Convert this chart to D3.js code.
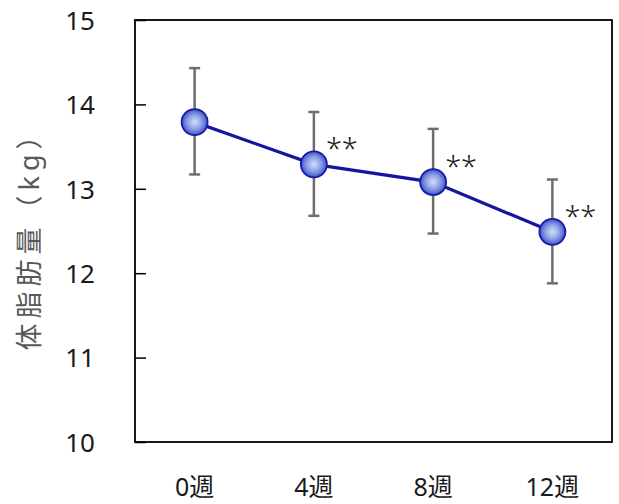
<!DOCTYPE html>
<html>
<head>
<meta charset="utf-8">
<script src="https://cdn.jsdelivr.net/npm/d3@7"></script>
<style>
  body { margin: 0; background: #fff; }
  svg { display: block; }
</style>
</head>
<body>
<div id="vis"></div>
<script>
// data
const weeks = ["0週", "4週", "8週", "12週"];
const means = [13.79, 13.29, 13.08, 12.49];
const errUp = [14.43, 13.91, 13.71, 13.11];
const errDown = [13.17, 12.68, 12.47, 11.88];
const marks = ["", "**", "**", "**"];
const yTicks = [10, 11, 12, 13, 14, 15];

const FONT = '"Noto Sans", "Noto Sans CJK JP", sans-serif';

const svg = d3.select("#vis").append("svg")
  .attr("width", 619)
  .attr("height", 504)
  .attr("font-family", FONT);

const margin = { top: 20, right: 7, bottom: 62, left: 135 };
const width = 619 - margin.left - margin.right;
const height = 504 - margin.top - margin.bottom;

const g = svg.append("g")
  .attr("transform", `translate(${margin.left},${margin.top})`);

const xScale = d3.scalePoint()
  .domain(weeks)
  .range([0, width])
  .padding(0.5);

const yScale = d3.scaleLinear()
  .domain([10, 15])
  .range([height, 0]);

// gradient for the markers
const grad = svg.append("defs").append("radialGradient")
  .attr("id", "ball")
  .attr("cx", "50%").attr("cy", "50%").attr("r", "50%");
grad.append("stop").attr("offset", "0%").attr("stop-color", "#d4def8");
grad.append("stop").attr("offset", "55%").attr("stop-color", "#8c9fe6");
grad.append("stop").attr("offset", "100%").attr("stop-color", "#3f55c8");

// frame
g.append("rect")
  .attr("width", width)
  .attr("height", height)
  .attr("fill", "none")
  .attr("stroke", "#000")
  .attr("stroke-width", 1.8);

// y axis, ticks inward
const yAxis = g.append("g")
  .call(d3.axisLeft(yScale).tickValues(yTicks).tickFormat(d3.format("d"))
    .tickSize(-11).tickPadding(40))
  .attr("font-family", FONT);
yAxis.select(".domain").remove();
yAxis.selectAll("line").attr("stroke", "#000").attr("stroke-width", 1.5);
yAxis.selectAll("text")
  .attr("font-size", "26px")
  .attr("fill", "#1a1a1a")
  .attr("dy", "0.36em");

// x labels
g.selectAll(".xlab")
  .data(weeks)
  .join("text")
  .attr("class", "xlab")
  .attr("x", d => xScale(d))
  .attr("y", height + 54)
  .attr("text-anchor", "middle")
  .attr("font-size", "25px")
  .attr("fill", "#1a1a1a")
  .text(d => d);

// y title
g.append("text")
  .attr("transform", "rotate(-90)")
  .attr("x", -214)
  .attr("y", -96)
  .attr("text-anchor", "middle")
  .attr("font-size", "27px")
  .attr("letter-spacing", "5px")
  .attr("fill", "#595959")
  .text("体脂肪量（kg）");

// error bars
const eb = g.selectAll(".eb")
  .data(weeks)
  .join("g")
  .attr("class", "eb")
  .attr("stroke", "#6e6e6e")
  .attr("stroke-width", 2.5);
eb.append("line")
  .attr("x1", d => xScale(d)).attr("x2", d => xScale(d))
  .attr("y1", (d, i) => yScale(errUp[i]))
  .attr("y2", (d, i) => yScale(errDown[i]));
eb.append("line")
  .attr("x1", d => xScale(d) - 5.5).attr("x2", d => xScale(d) + 5.5)
  .attr("y1", (d, i) => yScale(errUp[i]))
  .attr("y2", (d, i) => yScale(errUp[i]));
eb.append("line")
  .attr("x1", d => xScale(d) - 5.5).attr("x2", d => xScale(d) + 5.5)
  .attr("y1", (d, i) => yScale(errDown[i]))
  .attr("y2", (d, i) => yScale(errDown[i]));

// line
const line = d3.line()
  .x((d, i) => xScale(weeks[i]))
  .y(d => yScale(d));
g.append("path")
  .datum(means)
  .attr("d", line)
  .attr("fill", "none")
  .attr("stroke", "#1515a0")
  .attr("stroke-width", 3.2);

// markers
g.selectAll(".pt")
  .data(means)
  .join("circle")
  .attr("class", "pt")
  .attr("cx", (d, i) => xScale(weeks[i]))
  .attr("cy", d => yScale(d))
  .attr("r", 13)
  .attr("fill", "url(#ball)")
  .attr("stroke", "#1a1aa8")
  .attr("stroke-width", 1.8);

// significance marks
g.selectAll(".sig")
  .data(marks)
  .join("text")
  .attr("class", "sig")
  .attr("x", (d, i) => xScale(weeks[i]) + 12)
  .attr("y", (d, i) => yScale(means[i]) - 5)
  .attr("font-size", "29px")
  .attr("font-weight", 300)
  .attr("fill", "#1a1a1a")
  .text(d => d);
</script>
</body>
</html>
